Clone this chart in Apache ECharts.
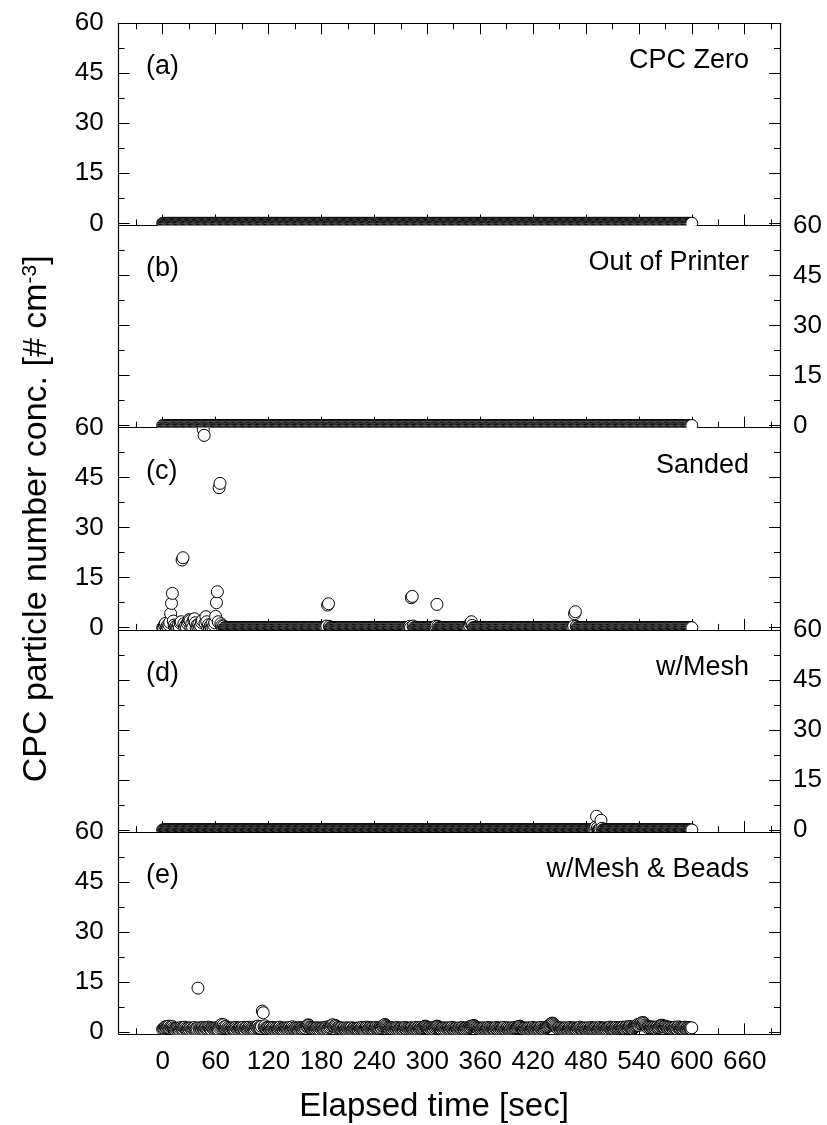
<!DOCTYPE html>
<html>
<head>
<meta charset="utf-8">
<script src="https://cdn.jsdelivr.net/npm/echarts@6/dist/echarts.min.js"></script>
<style>
  html, body { margin: 0; padding: 0; background: #fff; }
  #chart { width: 827px; height: 1125px; }
</style>
</head>
<body>
<div id="chart"></div>
<script>
// CPC readings, one per second over the 600 s run
const seconds = [];
for (let t = 0; t <= 600; t++) seconds.push(t);

const xTickLabels = [0, 60, 120, 180, 240, 300, 360, 420, 480, 540, 600, 660];
const xMinorTicks = [-30, 30, 90, 150, 210, 270, 330, 390, 450, 510, 570, 630, 690];
const yTickLabels = [0, 15, 30, 45, 60];
const yMinorTicks = [7.5, 22.5, 37.5, 52.5];

const panelTags = ['(a)', '(b)', '(c)', '(d)', '(e)'];
const panelNames = ['CPC Zero', 'Out of Printer', 'Sanded', 'w/Mesh', 'w/Mesh & Beads'];

// Non-zero readings [s, #/cm3]; every other second reads 0
const cpcZeroPeaks = [];
const outOfPrinterPeaks = [];
const sandedPeaks = [
  [2, 0.8], [3, 1.3], [5, 0.6], [7, 0.9], [8, 1.6], [9, 4.2], [10, 7.3], [11, 10.3], [12, 2.0],
  [13, 0.8], [15, 0.5], [18, 0.9], [20, 1.4], [21, 1.8], [22, 20.3], [23, 21.0], [24, 1.2],
  [26, 0.7], [28, 1.3], [29, 1.9], [30, 2.4], [31, 2.1], [33, 1.2], [35, 2.3], [36, 2.7],
  [37, 1.5], [39, 0.8], [41, 1.1], [43, 0.6], [44, 1.6], [45, 2.2], [46, 59.5], [47, 57.7],
  [48, 1.4], [49, 3.3], [50, 1.8], [52, 0.9], [54, 0.6], [56, 1.2], [58, 0.8], [59, 1.5],
  [60, 3.4], [61, 7.5], [62, 10.8], [63, 1.8], [64, 42.0], [65, 43.3], [66, 1.2], [67, 0.6],
  [69, 0.5], [186, 0.5], [187, 6.8], [188, 7.2], [189, 0.4], [280, 0.4], [282, 9.0], [283, 9.4],
  [284, 0.5], [310, 0.5], [311, 7.0], [312, 0.4], [348, 0.6], [349, 1.4], [350, 1.8], [351, 0.7],
  [466, 0.5], [467, 4.2], [468, 4.8], [469, 0.4]
];
const meshPeaks = [
  [488, 0.3], [490, 0.5], [491, 0.9], [492, 4.1], [493, 0.6], [496, 0.4], [497, 2.9], [498, 0.5]
];
// w/Mesh & Beads, 0 s .. 600 s
const meshBeadsConc = [
  0.9,1.1,1.3,1.6,1.4,1.7,1.5,1.8,1.2,1.6,1.4,1.7,1.3,1.0,0.8,1.1,0.9,1.2,1.0,0.7,
  1.1,1.4,1.2,0.9,1.3,1.5,1.1,0.8,1.0,1.2,0.9,1.3,1.1,0.7,1.0,1.2,1.4,1.0,0.8,1.1,
  13.2,1.3,0.9,1.2,1.0,1.4,1.1,0.8,1.2,1.3,0.9,1.1,1.5,1.2,1.0,0.8,1.3,1.1,0.9,1.2,
  1.0,1.3,1.1,0.9,1.4,1.8,2.1,2.3,1.9,2.2,1.6,1.3,1.7,1.1,1.4,1.0,1.2,0.8,1.1,1.3,
  1.0,1.2,0.9,1.4,1.1,0.8,1.0,1.3,1.2,0.9,1.1,1.4,1.0,0.7,1.2,1.3,0.9,1.1,1.5,1.2,
  0.9,1.0,1.3,1.1,0.8,1.2,1.6,1.4,1.8,1.3,1.5,1.2,1.7,6.3,5.8,1.6,1.9,1.3,1.1,1.4,
  1.2,1.0,1.3,0.9,1.1,1.4,1.2,0.8,1.0,1.3,1.1,0.9,1.2,1.5,1.0,1.3,1.1,0.8,1.2,1.0,
  1.3,1.1,0.9,1.2,1.4,1.0,1.3,1.6,1.2,0.9,1.1,1.3,1.0,1.2,0.8,1.1,1.4,1.2,1.0,1.3,
  1.1,1.4,1.2,1.7,1.9,2.2,2.0,1.6,1.4,1.2,1.0,1.3,1.1,0.9,1.2,1.0,1.3,1.1,0.8,1.2,
  1.0,1.3,1.1,0.9,1.2,1.5,1.3,1.0,1.4,1.7,1.5,1.9,2.1,2.2,1.8,1.6,2.0,1.7,1.3,1.1,
  1.4,1.2,1.0,1.3,0.9,1.1,1.2,0.8,1.0,1.3,1.1,0.9,1.2,1.0,1.3,0.8,1.1,1.2,0.9,1.0,
  1.2,1.1,0.9,1.3,1.0,1.2,1.4,1.1,0.8,1.0,1.3,1.5,1.2,0.9,1.1,1.4,1.2,1.0,1.3,1.1,
  0.9,1.2,1.4,1.1,1.3,1.0,1.2,1.5,1.3,1.7,1.9,2.1,2.3,2.0,1.8,1.5,1.3,1.1,1.4,1.2,
  1.0,1.3,1.1,0.9,1.2,1.0,1.4,1.1,0.8,1.2,1.0,1.3,1.1,0.9,1.2,1.4,1.0,1.3,1.1,0.9,
  1.2,1.0,1.3,1.1,0.8,1.0,1.2,1.4,1.1,0.9,1.3,1.0,1.2,1.4,1.1,1.3,1.5,1.7,1.8,1.6,
  1.4,1.2,1.0,1.3,1.1,0.9,1.2,1.0,1.4,1.3,1.6,1.8,1.7,1.5,1.3,1.1,0.9,1.2,1.0,1.3,
  1.1,0.8,1.2,1.0,1.3,1.1,0.9,1.2,1.4,1.0,1.3,1.1,0.9,1.2,1.0,0.8,1.1,1.3,1.0,1.2,
  1.4,1.1,0.9,1.2,1.0,1.3,1.1,1.4,1.6,1.5,1.8,1.7,1.9,2.0,1.8,1.6,1.4,1.2,1.0,1.3,
  1.1,0.9,1.2,1.0,1.3,1.1,0.8,1.0,1.2,1.4,1.1,0.9,1.3,1.0,1.2,1.1,0.9,1.2,1.4,1.0,
  1.3,1.1,0.9,1.2,1.0,1.3,1.1,1.4,1.0,0.8,1.1,1.3,1.0,1.2,0.9,1.1,1.3,1.0,1.2,1.4,
  1.1,1.3,1.5,1.4,1.7,1.8,1.6,1.4,1.2,1.0,1.3,1.1,0.9,1.2,1.0,1.3,1.1,0.8,1.0,1.2,
  1.4,1.1,0.9,1.2,1.0,1.3,1.1,0.9,1.2,1.4,1.0,1.3,1.1,0.9,1.2,1.4,1.6,1.8,2.0,2.2,
  2.4,2.6,2.7,2.5,2.2,1.9,1.6,1.3,1.1,1.4,1.2,1.0,1.3,1.1,0.9,1.2,1.0,1.3,1.1,0.8,
  1.0,1.2,1.4,1.1,0.9,1.2,1.0,1.3,1.1,0.9,1.2,1.0,1.3,1.5,1.2,1.0,0.8,1.1,1.3,1.0,
  1.2,0.9,1.1,1.3,1.0,1.2,1.4,1.1,0.9,1.2,1.0,1.3,1.1,0.8,1.0,1.2,1.4,1.1,0.9,1.2,
  1.0,1.3,1.1,0.9,1.2,1.0,1.3,1.5,1.2,1.0,1.3,1.1,0.9,1.2,1.4,1.1,1.3,1.0,1.2,1.4,
  1.1,1.3,1.5,1.2,1.0,1.3,1.6,1.4,1.2,1.5,1.7,1.4,1.2,1.0,1.3,1.5,1.7,1.9,2.1,2.3,
  2.0,2.4,2.6,2.8,2.5,2.9,2.6,2.2,1.9,1.6,1.4,1.7,1.5,1.3,1.6,1.4,1.2,1.5,1.3,1.1,
  1.4,1.6,1.3,1.5,1.8,2.0,2.1,1.9,1.7,1.5,1.8,1.6,1.4,1.2,1.5,1.3,1.1,1.4,1.2,1.0,
  1.3,1.5,1.2,1.0,1.4,1.6,1.3,1.1,1.4,1.2,1.0,1.3,1.5,1.2,1.0,1.3,1.1,1.4,1.2,1.0,
  1.3
];

function fromPeaks(peaks) {
  const conc = seconds.map(() => 0);
  peaks.forEach(([t, c]) => { conc[t] = c; });
  return conc;
}

const panelConc = [
  fromPeaks(cpcZeroPeaks),
  fromPeaks(outOfPrinterPeaks),
  fromPeaks(sandedPeaks),
  fromPeaks(meshPeaks),
  meshBeadsConc
];

// ---- layout ----
const FONT = '"Liberation Sans", Arial, Helvetica, sans-serif';
const PLOT_LEFT = 118.6;
const PLOT_RIGHT = 47;
const PLOT_TOP = 23.3;
const PANEL_H = 202.2;
const X_MIN = -50, X_MAX = 700;
const Y_MIN = -0.65, Y_MAX = 60;
const MAJOR_LEN = 11, MINOR_LEN = 6;
const MARKER_R = 6;
const INK = '#000';

const grids = [];
const xAxes = [];
const yAxes = [];
const series = [];
const graphics = [];

function xAxis(gridIndex, position, ticks, len, showLabels, showLine) {
  return {
    type: 'value', gridIndex, position, min: X_MIN, max: X_MAX,
    axisLine: { show: showLine, onZero: false, lineStyle: { color: INK, width: 1.2 } },
    axisTick: { show: true, inside: true, length: len, customValues: ticks, lineStyle: { color: INK, width: 1 } },
    axisLabel: { show: showLabels, customValues: ticks, color: INK, fontSize: 26, fontFamily: FONT, margin: 15 },
    splitLine: { show: false }, minorTick: { show: false }
  };
}

function yAxis(gridIndex, position, ticks, len, showLabels, showLine, margin) {
  return {
    type: 'value', gridIndex, position, min: Y_MIN, max: Y_MAX,
    axisLine: { show: showLine, onZero: false, lineStyle: { color: INK, width: 1.2 } },
    axisTick: { show: true, inside: true, length: len, customValues: ticks, lineStyle: { color: INK, width: 1 } },
    axisLabel: { show: showLabels, customValues: ticks, color: INK, fontSize: 26, fontFamily: FONT, margin },
    splitLine: { show: false }, minorTick: { show: false }
  };
}

const nPanels = panelConc.length;

// main grids (data, major ticks, labels)
for (let i = 0; i < nPanels; i++) {
  const top = PLOT_TOP + i * PANEL_H;
  grids.push({ left: PLOT_LEFT, right: PLOT_RIGHT, top, height: PANEL_H, outerBoundsMode: 'none' });

  const xi = xAxes.length;
  xAxes.push(xAxis(i, 'bottom', xTickLabels, MAJOR_LEN, i === nPanels - 1, true));
  if (i === 0) xAxes.push(xAxis(i, 'top', xTickLabels, MAJOR_LEN, false, true));

  const yi = yAxes.length;
  const labelsLeft = i % 2 === 0;
  yAxes.push(yAxis(i, 'left', yTickLabels, MAJOR_LEN, labelsLeft, true, 15));
  yAxes.push(yAxis(i, 'right', yTickLabels, MAJOR_LEN, !labelsLeft, true, 13));

  series.push({
    type: 'custom',
    xAxisIndex: xi,
    yAxisIndex: yi,
    clip: true,
    silent: true,
    animation: false,
    encode: { x: 0, y: 1 },
    data: seconds.map((t, k) => [t, panelConc[i][k]]),
    renderItem(params, api) {
      const p = api.coord([api.value(0), api.value(1)]);
      return {
        type: 'circle',
        shape: { cx: p[0], cy: p[1], r: MARKER_R },
        style: { fill: '#fff', stroke: INK, lineWidth: 1 }
      };
    }
  });

  graphics.push({
    type: 'text', left: 146, top: top + 30,
    style: { text: panelTags[i], fill: INK, font: '27px ' + FONT }
  });
  graphics.push({
    type: 'text', right: 78, top: top + 24,
    style: { text: panelNames[i], fill: INK, font: '27px ' + FONT }
  });
}

// overlay grids carrying the minor ticks
for (let i = 0; i < nPanels; i++) {
  const gi = grids.length;
  grids.push({ left: PLOT_LEFT, right: PLOT_RIGHT, top: PLOT_TOP + i * PANEL_H, height: PANEL_H, outerBoundsMode: 'none' });
  xAxes.push(xAxis(gi, 'bottom', xMinorTicks, MINOR_LEN, false, false));
  if (i === 0) xAxes.push(xAxis(gi, 'top', xMinorTicks, MINOR_LEN, false, false));
  yAxes.push(yAxis(gi, 'left', yMinorTicks, MINOR_LEN, false, false, 15));
  yAxes.push(yAxis(gi, 'right', yMinorTicks, MINOR_LEN, false, false, 13));
}

// axis titles
const plotMidY = PLOT_TOP + nPanels * PANEL_H / 2;
graphics.push({
  type: 'text', x: 37, y: plotMidY - 10, rotation: Math.PI / 2,
  style: {
    text: '{t|CPC particle number conc. [# cm}{s|-3}{t|]}',
    align: 'center', verticalAlign: 'middle',
    rich: {
      t: { fontSize: 34, fontFamily: FONT, fill: INK, color: INK },
      s: { fontSize: 21, fontFamily: FONT, fill: INK, color: INK, verticalAlign: 'top' }
    }
  }
});
graphics.push({
  type: 'text', x: 434, y: 1107,
  style: { text: 'Elapsed time [sec]', align: 'center', verticalAlign: 'middle', fill: INK, font: '33px ' + FONT }
});

const chart = echarts.init(document.getElementById('chart'), null, { renderer: 'canvas' });
chart.setOption({
  animation: false,
  backgroundColor: '#fff',
  grid: grids,
  xAxis: xAxes,
  yAxis: yAxes,
  series,
  graphic: graphics
});
</script>
</body>
</html>
